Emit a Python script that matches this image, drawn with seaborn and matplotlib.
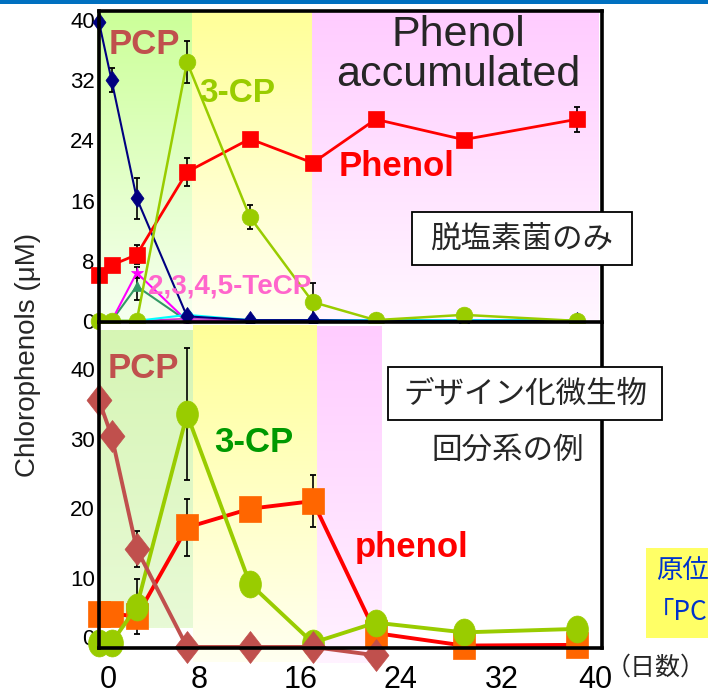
import numpy as np
import matplotlib
matplotlib.use("Agg")
import matplotlib.pyplot as plt
import seaborn as sns
from matplotlib.path import Path
from matplotlib.patches import Rectangle
from matplotlib.colors import to_rgb
from matplotlib.transforms import ScaledTranslation

sns.set_style("white")
plt.rcParams['font.family'] = ['Liberation Sans', 'Noto Sans CJK JP', 'DejaVu Sans']
CJK = ['Noto Sans CJK JP', 'DejaVu Sans']

days = [0, 1, 3, 7, 12, 17, 22, 29, 38]

# upper panel: dechlorinating bacteria only
top_pcp = [39.7, 32.0, 16.3, 0.6, 0.1, 0.1, 0.0, 0.0, 0.0]
top_pcp_err = [0, 1.6, 2.7, 0, 0, 0, 0, 0, 0]
top_phenol = [6.1, 7.4, 8.8, 19.8, 24.2, 21.0, 26.8, 24.1, 26.8]
top_phenol_err = [0, 0, 1.3, 1.9, 0, 0, 0, 0.3, 1.7]
top_3cp = [0.0, 0.0, 0.0, 34.4, 13.8, 2.5, 0.1, 0.8, 0.0]
top_3cp_err = [0, 0, 0, 2.8, 1.6, 2.5, 0, 0, 0]
top_tecp = [0.0, 0.0, 6.4, 0.0, 0.0, 0.0, 0.0, 0.0, 0.0]
top_tecp_err = [0, 0, 0.7, 0, 0, 0, 0, 0, 0]
top_tcp = [0.0, 0.0, 4.6, 0.0, 0.0, 0.0, 0.0, 0.0, 0.0]
top_tcp_err = [0, 0, 1.8, 0, 0, 0, 0, 0, 0]
top_dcp = [0.0, 0.0, 0.0, 0.8, 0.1, 0.1, 0.1, 0.1, 0.1]
top_ocp = [0.0, 0.0, 0.0, 0.3, 0.1, 0.1, 0.0, 0.0, 0.0]

# lower panel: designed consortium, batch
bot_pcp_days = [0, 1, 3, 7, 12, 17, 22]
bot_pcp = [35.5, 30.4, 14.1, 0.0, 0.0, 0.0, -1.2]
bot_pcp_err = [0, 0, 2.6, 0, 0, 0, 0]
bot_phenol = [4.8, 4.8, 4.4, 17.2, 19.9, 21.0, 2.0, 0.2, 0.3]
bot_phenol_err = [0, 0, 1.0, 4.1, 1.5, 3.7, 0, 0, 0]
bot_3cp = [0.6, 0.6, 5.8, 33.5, 9.1, 0.6, 3.5, 2.1, 2.6]
bot_3cp_err = [0, 0, 4.0, 9.5, 0, 0, 0, 0, 0]

top_yticks = [0, 8, 16, 24, 32, 40]
bot_yticks = [0, 10, 20, 30, 40]
xticks = [0, 8, 16, 24, 32, 40]

W, H = 708, 695
fig = plt.figure(figsize=(W / 100, H / 100), dpi=100)


def fx(px):
    return px / W


def fy(py):
    return 1 - py / H


def shape(w, h=1.0, kind='rect'):
    if kind == 'rect':
        return Path([(-w, -h), (w, -h), (w, h), (-w, h), (-w, -h)], closed=True)
    if kind == 'diamond':
        return Path([(0, h), (w, 0), (0, -h), (-w, 0), (0, h)], closed=True)
    c = Path.unit_circle()
    return Path(c.vertices * [w, h], c.codes)


def shade(ax, x0, x1, y0, y1, top, bottom):
    t, b = np.array(to_rgb(top)), np.array(to_rgb(bottom))
    f = np.linspace(0, 1, 64)[:, None]
    grad = (t * (1 - f) + b * f)[:, None, :]
    ax.imshow(grad, extent=[x0, x1, y0, y1], aspect='auto', origin='upper',
              interpolation='bilinear', zorder=0, clip_on=False)


def series(ax, x, y, err, color, marker, ms, lw, mfc=None, z=2):
    sns.lineplot(x=x, y=y, ax=ax, color=color, marker=marker, markersize=ms,
                 markerfacecolor=mfc or color, markeredgecolor=mfc or color,
                 markeredgewidth=0.5, linewidth=lw, clip_on=False, zorder=z,
                 errorbar=None, sort=False)
    if err is not None:
        e = np.array(err)
        m = e > 0
        ax.errorbar(np.array(x)[m], np.array(y)[m], yerr=e[m], fmt='none', ecolor='black',
                    elinewidth=1.2, capsize=2.5, capthick=1.3, zorder=z - 0.5, clip_on=False)


def nudge(label, dx, dy):
    label.set_transform(label.get_transform() + ScaledTranslation(dx / 100, dy / 100, fig.dpi_scale_trans))


ax1 = fig.add_axes([fx(99), fy(322), fx(602) - fx(99), (322 - 11) / H])
ax2 = fig.add_axes([fx(99), fy(648), fx(602) - fx(99), (648 - 324) / H])

# coloured phase bands
shade(ax1, -0.15, 7.4, 0, 41.2, '#ccff99', '#f6fff0')
shade(ax1, 7.4, 16.95, 0, 41.2, '#ffff99', '#fffff2')
shade(ax1, 16.95, 39.7, 0, 41.2, '#ffccff', '#fff6ff')
shade(ax2, 0, 7.5, 2.7, 45.6, '#d6f5b4', '#e8fad6')
shade(ax2, 7.5, 17.3, -2.2, 46.2, '#ffff99', '#fffff0')
shade(ax2, 17.3, 22.4, -2.3, 46.2, '#ffccff', '#fff2ff')

# upper panel
series(ax1, days, top_ocp, None, '#cc33cc', 'D', 5, 1.2, z=2)
series(ax1, days, top_tcp, top_tcp_err, '#339966', '^', 7, 1.5, z=2.1)
series(ax1, days, top_tecp, top_tecp_err, '#ff00ff', '*', 9, 1.5, z=2.2)
series(ax1, days, top_dcp, None, '#00ffff', 'X', 7, 1.5, z=2.3)
series(ax1, days, top_pcp, top_pcp_err, '#000080', shape(0.72, kind='diamond'), 13, 1.5, z=2.4)
series(ax1, days, top_phenol, top_phenol_err, '#ff0000', 's', 12, 2.0, z=2.5)
series(ax1, days, top_3cp, top_3cp_err, '#99cc00', 'o', 12, 1.8, z=2.6)

# lower panel
series(ax2, days, bot_phenol, bot_phenol_err, '#ff0000', shape(0.85), 18.7, 2.8, mfc='#ff6600', z=2.5)
series(ax2, days, bot_3cp, bot_3cp_err, '#99cc00', shape(0.81, kind='circle'), 19.4, 2.8, z=2.6)
series(ax2, bot_pcp_days, bot_pcp, bot_pcp_err, '#c0504d', shape(0.78, kind='diamond'), 23, 2.8, z=2.7)

ax1.set_xlim(0, 40)
ax1.set_ylim(-0.15, 41.2)
ax2.set_xlim(0, 40)
ax2.set_ylim(-0.15, 46.5)

for ax in (ax1, ax2):
    for s in ax.spines.values():
        s.set_linewidth(2.6)
        s.set_color('black')
        s.set_zorder(5)
    ax.tick_params(direction='in', length=6, width=1.8, colors='black')
    ax.set_xlabel('')
    ax.set_ylabel('')
ax2.spines['top'].set_visible(False)

ax1.set_xticks([8, 16, 24, 32])
ax1.tick_params(axis='x', labelbottom=False)
ax1.set_yticks(top_yticks)
ax1.set_yticklabels([str(v) for v in top_yticks], fontsize=16)
ax1.tick_params(axis='y', pad=3)
ax2.set_xticks(xticks)
ax2.set_xticklabels([str(v) for v in xticks], fontsize=22)
ax2.tick_params(axis='x', pad=12)
ax2.set_yticks(bot_yticks)
ax2.set_yticklabels([str(v) for v in bot_yticks], fontsize=16)
ax2.tick_params(axis='y', pad=3)

xl = ax2.get_xticklabels()
nudge(xl[0], 9, 0)
nudge(xl[-1], -7, 0)
nudge(ax2.get_yticklabels()[0], 0, 10)

# header rule
fig.add_artist(Rectangle((0, fy(4)), 1, 4 / H, transform=fig.transFigure,
                         facecolor='#0070c0', edgecolor='none'))

fig.text(fx(28), fy(355), 'Chlorophenols (μM)', rotation=90, fontsize=20,
         ha='center', va='center')

# series labels
fig.text(fx(144), fy(44), 'PCP', color='#c0504d', fontsize=25, fontweight='bold', ha='center', va='center')
fig.text(fx(237), fy(93), '3-CP', color='#99cc00', fontsize=24, fontweight='bold', ha='center', va='center')
fig.text(fx(397), fy(166), 'Phenol', color='#ff0000', fontsize=25, fontweight='bold', ha='center', va='center')
fig.text(fx(230), fy(286), '2,3,4,5-TeCP', color='#ff66cc', fontsize=20, fontweight='bold', ha='center', va='center')
fig.text(fx(458), fy(35), 'Phenol', fontsize=31, ha='center', va='center')
fig.text(fx(458), fy(75), 'accumulated', fontsize=31, ha='center', va='center')

fig.text(fx(143), fy(369), 'PCP', color='#c0504d', fontsize=25, fontweight='bold', ha='center', va='center')
fig.text(fx(254), fy(442), '3-CP', color='#009900', fontsize=25, fontweight='bold', ha='center', va='center')
fig.text(fx(412), fy(548), 'phenol', color='#ff0000', fontsize=25, fontweight='bold', ha='center', va='center')

# framed captions
fig.add_artist(Rectangle((fx(412), fy(265)), fx(632) - fx(412), 53 / H, transform=fig.transFigure,
                         facecolor='white', edgecolor='black', linewidth=1.3, zorder=6))
fig.text(fx(522), fy(239), '脱塩素菌のみ', family=CJK, fontsize=22, ha='center', va='center', zorder=7)
fig.add_artist(Rectangle((fx(388), fy(420)), fx(662) - fx(388), 53 / H, transform=fig.transFigure,
                         facecolor='white', edgecolor='black', linewidth=1.3, zorder=6))
fig.text(fx(525), fy(394), 'デザイン化微生物', family=CJK, fontsize=22, ha='center', va='center', zorder=7)
fig.text(fx(508), fy(450), '回分系の例', family=CJK, fontsize=22, ha='center', va='center')

fig.text(fx(706), fy(668), '（日数）', family=CJK, fontsize=18, ha='right', va='center')

# cut-off note at the right edge
fig.add_artist(Rectangle((fx(646), fy(638)), fx(720) - fx(646), 90 / H, transform=fig.transFigure,
                         facecolor='#ffff66', edgecolor='none', zorder=1))
fig.text(fx(656), fy(571), '原位', family=CJK, fontsize=19, color='#0033cc', ha='left', va='center', zorder=2)
fig.text(fx(648), fy(613), '「PC', family=CJK, fontsize=19, color='#0033cc', ha='left', va='center', zorder=2)

fig.savefig('out.png', dpi=100)
